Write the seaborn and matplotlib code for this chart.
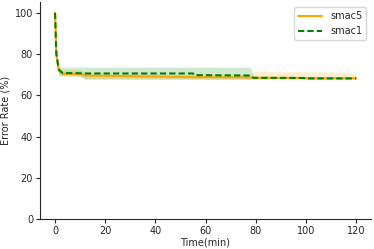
import matplotlib
matplotlib.use("Agg")
import matplotlib.pyplot as plt
import seaborn as sns
import pandas as pd

# time stamps (minutes)
time = [0, 0.5, 1.5, 3, 10, 12, 30, 50, 55, 55.5, 78, 79, 100, 101, 120]

# smac5: mean and band
smac5_mean = [100, 80, 72.0, 70.5, 70.3, 69.6, 69.3, 68.9, 68.8, 68.8, 68.7, 68.5, 68.4, 68.3, 68.3]
smac5_low = [100, 76, 69.5, 69.3, 69.2, 68.2, 68.0, 67.9, 67.8, 67.8, 67.8, 67.8, 67.8, 67.8, 67.8]
smac5_high = [100, 84, 73.5, 72.6, 72.4, 71.0, 70.5, 70.2, 70.2, 70.2, 70.2, 71.6, 71.4, 71.3, 71.2]

# smac1: mean and band
smac1_mean = [100, 80, 72.5, 70.8, 70.7, 70.6, 70.6, 70.6, 70.6, 69.8, 69.6, 68.5, 68.4, 68.2, 68.2]
smac1_low = [100, 76, 69.8, 69.5, 69.3, 67.8, 67.8, 67.8, 67.8, 67.8, 67.8, 68.0, 68.0, 67.8, 67.8]
smac1_high = [100, 84, 74.0, 73.7, 73.7, 73.7, 73.7, 73.7, 73.7, 73.7, 73.7, 69.0, 68.8, 68.6, 68.6]

methods = ["smac5", "smac1"]
colors = {"smac5": "orange", "smac1": "green"}

df = pd.concat([
    pd.DataFrame({"Time": time, "Error": smac5_mean, "low": smac5_low,
                  "high": smac5_high, "method": "smac5"}),
    pd.DataFrame({"Time": time, "Error": smac1_mean, "low": smac1_low,
                  "high": smac1_high, "method": "smac1"}),
])

sns.set_style("white")
plt.rcParams.update({"font.size": 7, "axes.linewidth": 0.8})

fig, ax = plt.subplots(figsize=(3.74, 2.49), dpi=100)

for m in methods:
    sub = df[df["method"] == m]
    ax.fill_between(sub["Time"], sub["low"], sub["high"], color=colors[m], alpha=0.18, linewidth=0)

sns.lineplot(data=df, x="Time", y="Error", hue="method", style="method",
             hue_order=methods, style_order=methods, palette=colors,
             dashes={"smac5": "", "smac1": (3, 1.5)}, linewidth=1.5, ax=ax)

ax.set_ylim(0, 105)
ax.set_xlabel("Time(min)", fontsize=7, labelpad=1)
ax.set_ylabel("Error Rate (%)", fontsize=7, labelpad=3)
ax.tick_params(axis="both", labelsize=7, length=3, width=0.8, pad=2, left=True, bottom=True)
ax.legend(loc="upper right", fontsize=7, frameon=True, handlelength=2.5)
sns.despine()

plt.subplots_adjust(left=0.107, right=0.992, top=0.99, bottom=0.12)
plt.savefig("out.png", dpi=100)
